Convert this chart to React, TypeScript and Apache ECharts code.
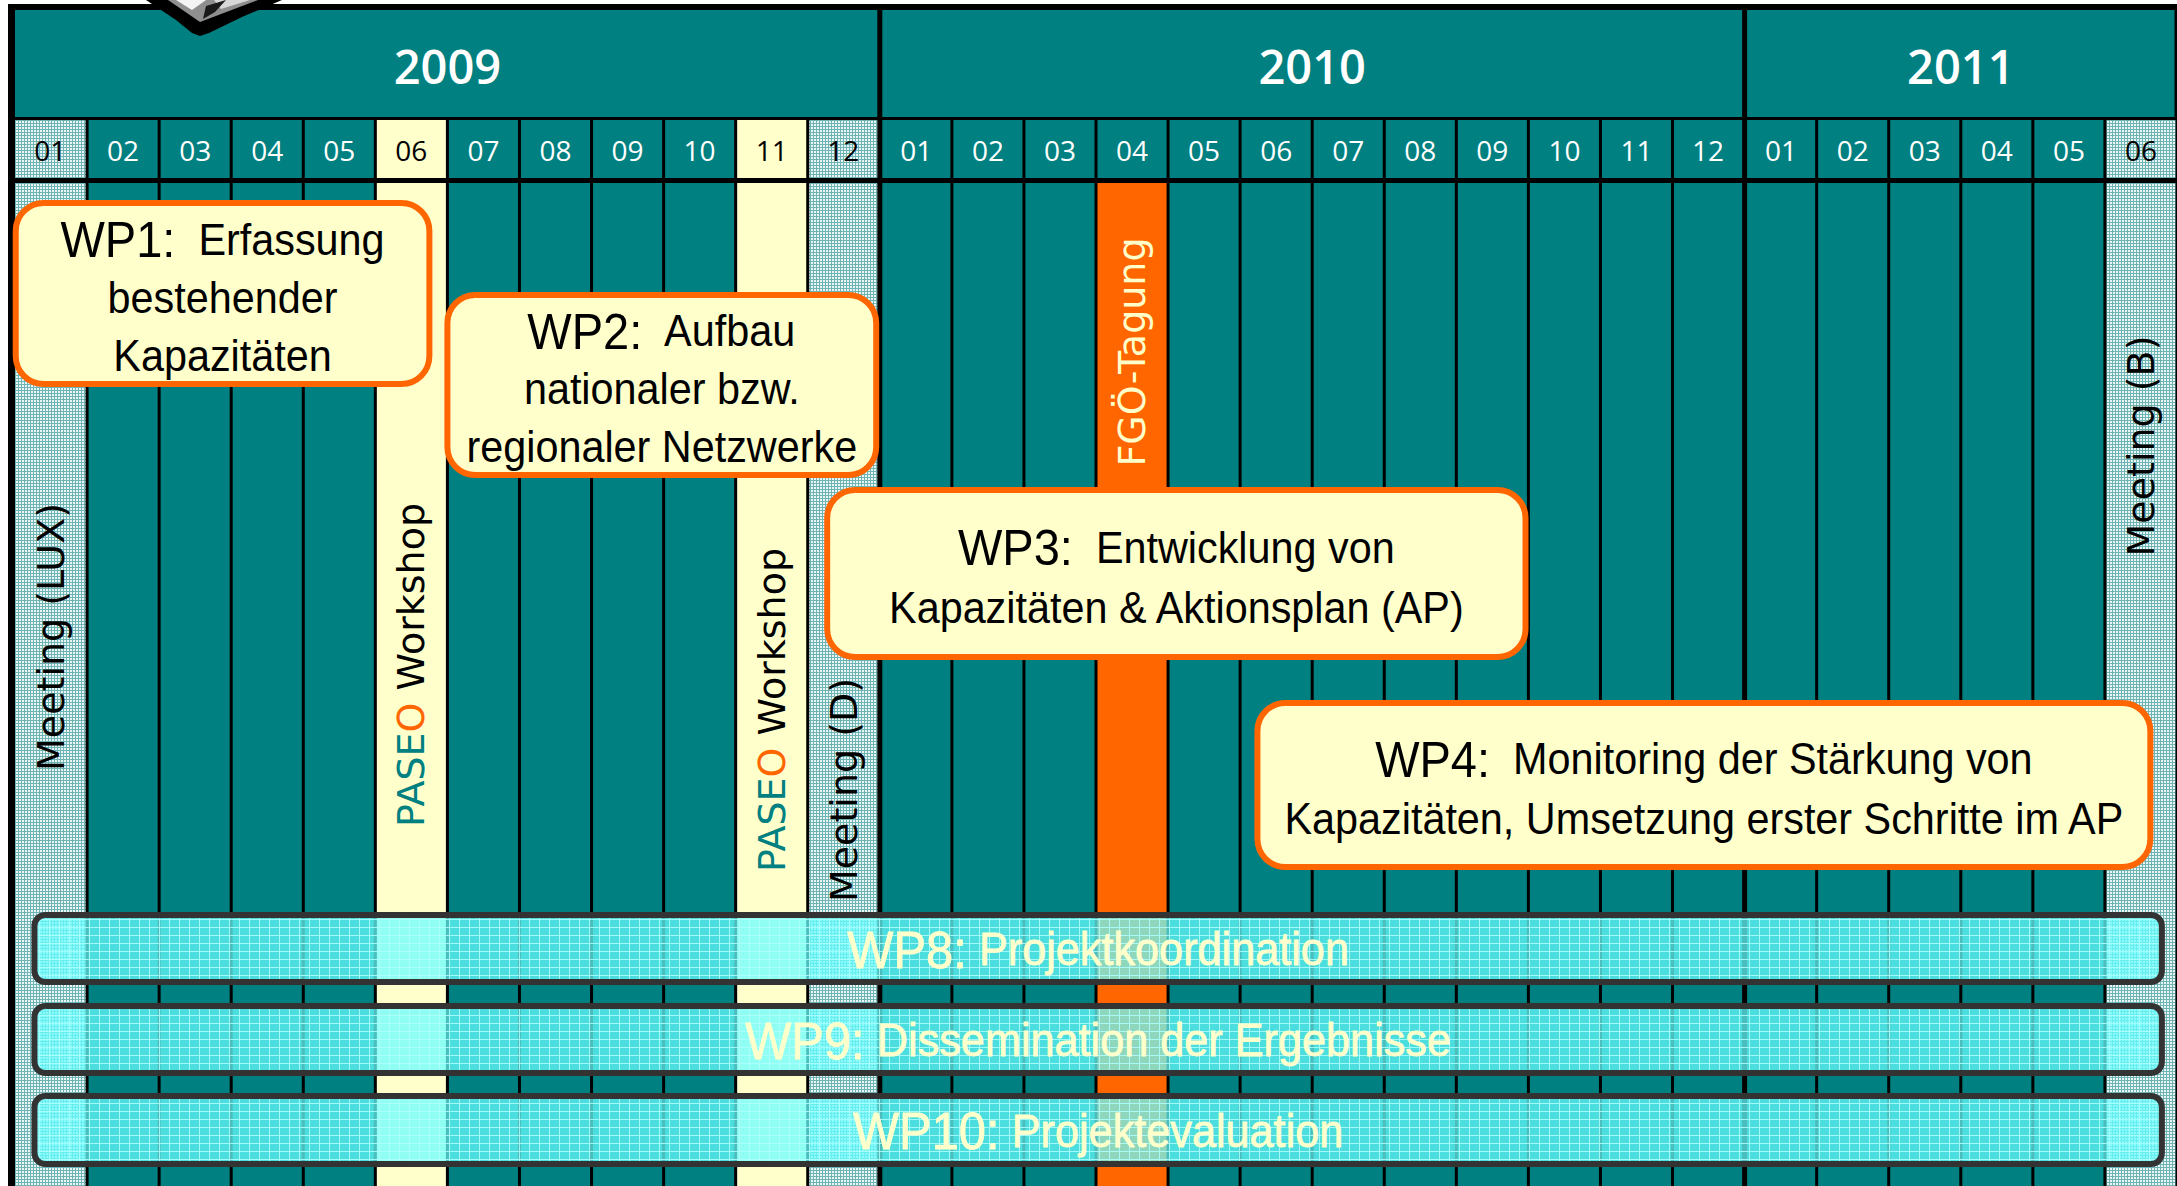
import React, { useEffect, useRef } from "react";
import * as echarts from "echarts";

// ---------------- data ----------------
const years = ["2009", "2010", "2011"];
const yearMonthCounts = [12, 12, 6];
const monthLabels = [
  "01", "02", "03", "04", "05", "06", "07", "08", "09", "10", "11", "12",
  "01", "02", "03", "04", "05", "06", "07", "08", "09", "10", "11", "12",
  "01", "02", "03", "04", "05", "06",
];
const meetingMonths = [0, 11, 29];
const workshopMonths = [5, 10];
const conferenceMonths = [15];

const eventMonths = [0, 5, 10, 11, 15, 29];
const eventLabels = ["Meeting (LUX)", "PASEO Workshop", "PASEO Workshop", "Meeting (D)", "FGÖ-Tagung", "Meeting (B)"];
const eventKinds = ["meeting", "workshop", "workshop", "meeting", "conference", "meeting"];

const wpIds = ["WP1", "WP2", "WP3", "WP4", "WP8", "WP9", "WP10"];
const wpTexts = [
  ["Erfassung", "bestehender", "Kapazitäten"],
  ["Aufbau", "nationaler bzw.", "regionaler Netzwerke"],
  ["Entwicklung von", "Kapazitäten & Aktionsplan (AP)"],
  ["Monitoring der Stärkung von", "Kapazitäten, Umsetzung erster Schritte im AP"],
  ["Projektkoordination"],
  ["Dissemination der Ergebnisse"],
  ["Projektevaluation"],
];
const wpStart = [0.01, 6.0, 11.27, 17.24, 0.27, 0.27, 0.27];
const wpEnd = [5.75, 11.95, 20.96, 29.63, 29.79, 29.79, 29.79];
const wpType = ["task", "task", "task", "task", "crosscut", "crosscut", "crosscut"];

// ---------------- layout (vertical positions, y-axis units) ----------------
const L = { frameTop: 4, yearTop: 10, yearBottom: 117, monthTop: 120, monthBottom: 178, bodyTop: 183, bottom: 1186 };
const wpLaneTop = [203, 295, 490, 703, 915, 1006, 1096];
const wpLaneBottom = [384, 475, 657, 867, 982, 1073, 1164];
const wpLineHeight = [58, 58, 60, 60, 60, 60, 60];
const eventLabelCenter = [637, 665, 710, 790, 352, 446];

const TEAL = "#008080";
const YELLOW = "#FFFFCC";
const ORANGE = "#FF6600";
const MONTH_GAP = 3;
const YEAR_GAP = 5;

const yearStarts: number[] = [];
{
  let acc = 0;
  for (const c of yearMonthCounts) {
    yearStarts.push(acc);
    acc += c;
  }
}
const yearBoundaries = yearStarts.slice(1);

function kindOf(i: number) {
  if (meetingMonths.includes(i)) return "meeting";
  if (workshopMonths.includes(i)) return "workshop";
  if (conferenceMonths.includes(i)) return "conference";
  return "normal";
}

function makeHatch() {
  const c = document.createElement("canvas");
  c.width = 3;
  c.height = 3;
  const g = c.getContext("2d")!;
  g.fillStyle = "#eaf6f6";
  g.fillRect(0, 0, 3, 3);
  g.fillStyle = "#6fb4b4";
  g.fillRect(0, 0, 3, 1);
  g.fillRect(0, 0, 1, 3);
  return { image: c.toDataURL(), repeat: "repeat", imageWidth: 3, imageHeight: 3 };
}

function makeBandPattern() {
  const c = document.createElement("canvas");
  c.width = 10;
  c.height = 8;
  const g = c.getContext("2d")!;
  g.fillStyle = "rgba(102,255,255,0.74)";
  g.fillRect(0, 0, 10, 8);
  g.fillStyle = "rgba(175,255,255,0.85)";
  g.fillRect(0, 7, 10, 1);
  g.fillRect(9, 0, 1, 7);
  return { image: c.toDataURL(), repeat: "repeat", imageWidth: 10, imageHeight: 8 };
}

export default function App() {
  const ref = useRef<HTMLDivElement>(null);

  useEffect(() => {
    if (!ref.current) return;
    const chart = echarts.init(ref.current, null, { renderer: "svg" });
    const hatch: any = makeHatch();
    const band: any = makeBandPattern();

    const yc = (api: any, v: number) => api.coord([0, v])[1];
    const xc = (api: any, m: number) => api.coord([m, 0])[0];

    const option: any = {
      animation: false,
      backgroundColor: "#ffffff",
      grid: { left: 15, right: -2.5, top: 0, bottom: 0 },
      xAxis: { type: "value", min: 0, max: 30, show: false },
      yAxis: { type: "value", min: 0, max: 1186, inverse: true, show: false },
      series: [
        {
          type: "custom",
          z: 1,
          data: [[0, 0]],
          renderItem: (_p: any, api: any) => ({
            type: "rect",
            shape: {
              x: xc(api, 0) - 7,
              y: yc(api, L.frameTop),
              width: xc(api, 30) - xc(api, 0) + 20,
              height: yc(api, L.bottom) - yc(api, L.frameTop),
            },
            style: { fill: "#000000" },
          }),
        },
        {
          type: "custom",
          z: 2,
          data: years.map((_, i) => [yearStarts[i], 0]),
          renderItem: (p: any, api: any) => {
            const i = p.dataIndex;
            const s = yearStarts[i];
            const e = s + yearMonthCounts[i];
            const xa = xc(api, s) + (i === 0 ? 0 : YEAR_GAP / 2);
            const xb = xc(api, e) - YEAR_GAP / 2;
            const t = yc(api, L.yearTop);
            const b = yc(api, L.yearBottom);
            return {
              type: "group",
              children: [
                { type: "rect", shape: { x: xa, y: t, width: xb - xa, height: b - t }, style: { fill: TEAL } },
                {
                  type: "text",
                  style: {
                    text: years[i],
                    x: (xc(api, s) + xc(api, e)) / 2,
                    y: (t + b) / 2 + 2,
                    align: "center",
                    verticalAlign: "middle",
                    fill: "#ffffff",
                    fontSize: 47,
                    fontWeight: 600,
                    fontFamily: "Open Sans",
                  },
                },
              ],
            };
          },
        },
        {
          type: "custom",
          z: 2,
          data: monthLabels.map((_, i) => [i, 0]),
          renderItem: (p: any, api: any) => {
            const i = p.dataIndex;
            const kind = kindOf(i);
            const x0 = xc(api, i);
            const x1 = xc(api, i + 1);
            const li = i === 0 ? 0 : yearBoundaries.includes(i) ? YEAR_GAP / 2 : MONTH_GAP / 2;
            const ri = yearBoundaries.includes(i + 1) ? YEAR_GAP / 2 : MONTH_GAP / 2;
            const hT = yc(api, L.monthTop);
            const hB = yc(api, L.monthBottom);
            const bT = yc(api, L.bodyTop);
            const bB = yc(api, L.bottom);
            const headFill = kind === "meeting" ? hatch : kind === "workshop" ? YELLOW : TEAL;
            const bodyFill =
              kind === "meeting" ? hatch : kind === "workshop" ? YELLOW : kind === "conference" ? ORANGE : TEAL;
            const lightHead = kind === "meeting" || kind === "workshop";
            return {
              type: "group",
              children: [
                { type: "rect", shape: { x: x0 + li, y: hT, width: x1 - ri - x0 - li, height: hB - hT }, style: { fill: headFill } },
                { type: "rect", shape: { x: x0 + li, y: bT, width: x1 - ri - x0 - li, height: bB - bT }, style: { fill: bodyFill } },
                {
                  type: "text",
                  style: {
                    text: monthLabels[i],
                    x: (x0 + li + x1 - ri) / 2,
                    y: (hT + hB) / 2 + 1,
                    align: "center",
                    verticalAlign: "middle",
                    fill: lightHead ? "#000000" : "#ffffff",
                    fontSize: 28,
                    fontFamily: "Open Sans",
                  },
                },
              ],
            };
          },
        },
        {
          type: "custom",
          z: 3,
          data: eventMonths.map((m) => [m, 0]),
          renderItem: (p: any, api: any) => {
            const i = p.dataIndex;
            const m = eventMonths[i];
            const cx = xc(api, m + 0.5);
            const cy = yc(api, eventLabelCenter[i]);
            const kind = eventKinds[i];
            const base = { fontSize: 38, fontFamily: "DejaVu Sans" };
            let style: any;
            if (kind === "workshop") {
              const word = eventLabels[i];
              const head = word.slice(0, 4);
              const o = word.slice(4, 5);
              const rest = word.slice(5);
              style = {
                text: `{a|${head}}{b|${o}}{c|${rest}}`,
                x: 0,
                y: 0,
                align: "center",
                verticalAlign: "middle",
                rich: {
                  a: { ...base, fill: TEAL },
                  b: { ...base, fill: ORANGE },
                  c: { ...base, fill: "#000000" },
                },
              };
            } else {
              style = {
                ...base,
                text: eventLabels[i],
                x: 0,
                y: 0,
                align: "center",
                verticalAlign: "middle",
                fill: kind === "conference" ? YELLOW : "#000000",
              };
            }
            return { type: "text", x: cx, y: cy, rotation: Math.PI / 2, style };
          },
        },
        {
          type: "custom",
          z: 4,
          data: wpIds.map((_, i) => [wpStart[i], wpEnd[i]]),
          renderItem: (p: any, api: any) => {
            const i = p.dataIndex;
            const xa = xc(api, wpStart[i]);
            const xb = xc(api, wpEnd[i]);
            const t = yc(api, wpLaneTop[i]);
            const b = yc(api, wpLaneBottom[i]);
            const isTask = wpType[i] === "task";
            const lines = wpTexts[i];
            const lh = wpLineHeight[i];
            const gap = isTask ? "  " : " ";
            const txt = [`{id|${wpIds[i]}:}{t|${gap}${lines[0]}}`, ...lines.slice(1).map((l) => `{t|${l}}`)].join("\n");
            const color = isTask ? "#000000" : YELLOW;
            return {
              type: "group",
              children: [
                {
                  type: "rect",
                  shape: { x: xa, y: t, width: xb - xa, height: b - t, r: isTask ? 28 : 11 },
                  style: isTask
                    ? { fill: YELLOW, stroke: ORANGE, lineWidth: 6 }
                    : { fill: band, stroke: "#333333", lineWidth: 6 },
                },
                {
                  type: "text",
                  x: (xa + xb) / 2,
                  y: (t + b) / 2 + (isTask ? 4 : 1),
                  scaleX: 0.94,
                  style: {
                    text: txt,
                    x: 0,
                    y: 0,
                    align: "center",
                    verticalAlign: "middle",
                    rich: {
                      id: {
                        fontSize: isTask ? 50 : 52,
                        fontFamily: "Liberation Sans",
                        fill: color,
                        stroke: isTask ? "none" : YELLOW,
                        lineWidth: isTask ? 0 : 0.8,
                        lineHeight: lh,
                      },
                      t: {
                        fontSize: isTask ? 44 : 46,
                        fontFamily: "Liberation Sans",
                        fill: color,
                        stroke: isTask ? "none" : YELLOW,
                        lineWidth: isTask ? 0 : 0.8,
                        lineHeight: lh,
                      },
                    },
                  },
                },
              ],
            };
          },
        },
      ],
      graphic: [
        {
          type: "polygon",
          z: 100,
          shape: { points: [[146, 0], [176, 20], [192, 33], [200, 36], [209, 33], [242, 17], [282, 0]] },
          style: { fill: "#000000" },
        },
        {
          type: "polygon",
          z: 101,
          shape: { points: [[168, 0], [200, 22], [258, 0]] },
          style: { fill: "#8f8f8f" },
        },
        {
          type: "polygon",
          z: 102,
          shape: { points: [[176, 0], [192, 10], [206, 0]] },
          style: { fill: "#f4f4f4" },
        },
        {
          type: "polygon",
          z: 102,
          shape: { points: [[214, 0], [221, 9], [250, 0]] },
          style: { fill: "#d8d8d8" },
        },
        {
          type: "polygon",
          z: 103,
          shape: { points: [[206, 6], [226, 0], [215, 12], [203, 19]] },
          style: { fill: "#1a1a1a" },
        },
      ],
    };

    chart.setOption(option);
    return () => chart.dispose();
  }, []);

  return (
    <div
      ref={ref}
      style={{ position: "absolute", left: 0, top: 0, width: 2177, height: 1186, background: "#ffffff" }}
    />
  );
}
